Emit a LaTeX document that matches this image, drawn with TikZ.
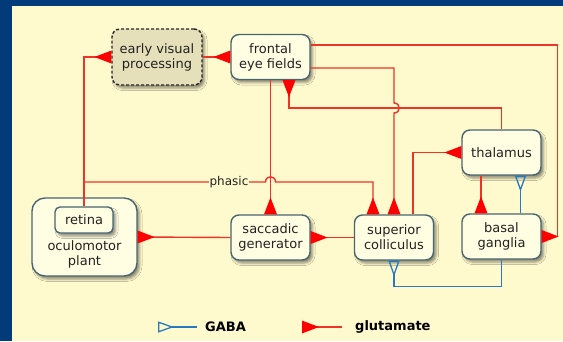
\documentclass[tikz,border=0pt]{standalone}
\usepackage{fontspec}
\setmainfont{DejaVu Sans}
\usetikzlibrary{arrows.meta,calc,shadows.blur}

\definecolor{pagebg}{RGB}{2,58,122}
\definecolor{panel}{RGB}{255,250,205}
\definecolor{boxfill}{RGB}{255,253,226}
\definecolor{evfill}{RGB}{230,224,186}
\definecolor{boxedge}{RGB}{72,102,112}
\definecolor{textcol}{RGB}{34,34,34}
\definecolor{glured}{RGB}{236,52,40}
\definecolor{gluhead}{RGB}{255,0,0}
\definecolor{gabablue}{RGB}{40,122,192}

\begin{document}
\begin{tikzpicture}[x=1pt,y=-1pt,
  txt/.style={font=\fontsize{13pt}{15pt}\selectfont, text=textcol, align=center},
  shade box/.style={blur shadow={shadow xshift=2.5pt, shadow yshift=-3pt,
      shadow blur radius=2.5pt, shadow opacity=45}},
  box/.style={txt, draw=boxedge, line width=1.4pt, fill=boxfill,
      rounded corners=8pt, minimum width=79pt, minimum height=45pt,
      inner sep=2pt, shade box},
  glu/.style={draw=glured, line width=1.4pt,
      -{Triangle[reversed, length=17pt, width=12.5pt, color=gluhead]}},
  gaba/.style={draw=gabablue, line width=1.3pt,
      -{Triangle[reversed, open, length=16pt, width=11pt]}},
  legendtxt/.style={font=\fontsize{13pt}{15pt}\selectfont\bfseries, text=black, anchor=west, inner sep=0pt}]

% background and panel
\useasboundingbox (0,0) rectangle (563,341);
\fill[pagebg] (0,0) rectangle (563,341);
\fill[panel] (12,6) rectangle (563,341);

% areas
\node[box, fill=evfill, draw=black!85, dashed, dash pattern=on 3pt off 2pt,
      minimum width=90pt, minimum height=56pt] (ev) at (157,57) {early visual\\processing};
\node[box] (fef) at (270.5,57) {frontal\\eye fields};
\node[box, minimum width=105pt, minimum height=78pt, rounded corners=13pt] (op) at (84.5,237) {};
\node[box, minimum width=58pt, minimum height=26pt, rounded corners=5pt] (retina) at (84,220) {retina};
\node[txt, inner sep=0pt] (optext) at (84.5,254) {oculomotor\\plant};
\node[box] (sg) at (270.5,237.5) {saccadic\\generator};
\node[box] (sc) at (394,237.5) {superior\\colliculus};
\node[box] (th) at (501.5,152.5) {thalamus};
\node[box] (bg) at (501.5,236.5) {basal\\ganglia};

% routing points
\coordinate (phl) at (retina.north |- 0,182);
\coordinate (thl) at (th.north |- 0,108);
\coordinate (hopv) at (sc.north |- thl);
\coordinate (hoph) at (sg.north |- phl);

% glutamate projections
\draw[glu] (retina.north) |- (ev.west);
\draw[glu] (ev.east) -- (fef.west);
\draw[glu] (fef.south) -- (sg.north);
\draw[glu] (th.north) -- (thl) -| ([xshift=18.5pt]fef.south);
\draw[glu] ([yshift=-11pt]fef.east) -| ($(hopv)+(0,-5)$)
  .. controls ($(hopv)+(7,-5)$) and ($(hopv)+(7,5)$) .. ($(hopv)+(0,5)$) -- (sc.north);
\draw[glu] ([yshift=12pt]fef.east) -| ($(bg.east)+(16,0)$) -- (bg.east);
\draw[glu] (phl) -- ($(hoph)+(-5,0)$)
  .. controls ($(hoph)+(-5,-7)$) and ($(hoph)+(5,-7)$) .. ($(hoph)+(5,0)$)
  -| ([xshift=-21pt]sc.north);
\draw[glu] (sg.west) -- (op.east);
\draw[glu] (sc.west) -- (sg.east);
\draw[glu] ([xshift=19pt]sc.north) |- (th.west);
\draw[glu] ([xshift=-20.5pt]th.south) -- ([xshift=-20.5pt]bg.north);

% GABA projections
\draw[gaba] ([xshift=19pt]bg.north) -- ([xshift=19pt]th.south);
\draw[gaba] (bg.south) -- ($(bg.south)+(0,27)$) -| (sc.south);

% label on the phasic branch
\node[fill=panel, inner xsep=1pt, inner ysep=0pt, font=\fontsize{12pt}{14pt}\selectfont, text=textcol] (phasic) at (229,182) {phasic};

% legend
\coordinate (gabaA) at (197,327);
\coordinate (gabaB) at (158,327);
\draw[gaba] (gabaA) -- (gabaB);
\node[legendtxt] (gabalbl) at (205,327) {GABA};
\coordinate (gluA) at (342,327);
\coordinate (gluB) at (302,327);
\draw[glu] (gluA) -- (gluB);
\node[legendtxt] (glulbl) at (355,327) {glutamate};
\end{tikzpicture}
\end{document}
